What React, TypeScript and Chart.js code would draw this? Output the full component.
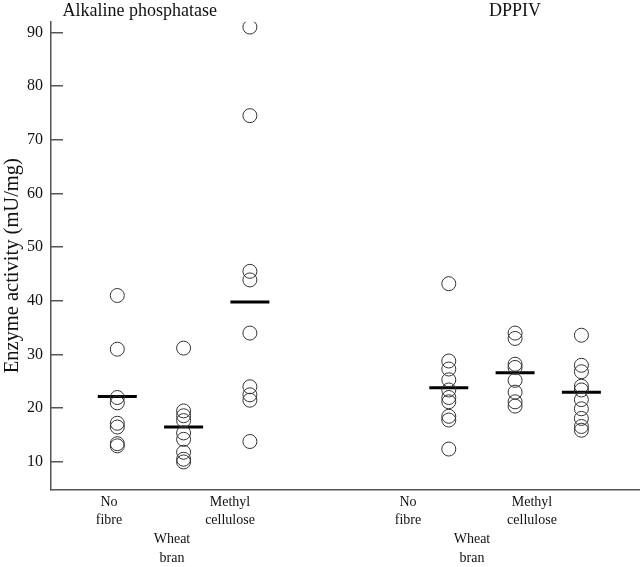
import React, { useEffect, useRef } from "react";
import { Chart, registerables } from "chart.js";

Chart.register(...registerables);

// ---- data ----
const panelTitles = ["Alkaline phosphatase", "DPPIV"];
const panelTitlePositions = [1.34, 7.0];

const categoryLabels = [
  ["No", "fibre"],
  ["", "", "Wheat", "bran"],
  ["Methyl", "cellulose"],
  ["No", "fibre"],
  ["", "", "Wheat", "bran"],
  ["Methyl", "cellulose"],
];
const categoryLabelPositions = [0.875, 1.825, 2.7, 5.385, 6.35, 7.255];
const groupPositions = [1, 2, 3, 6, 7, 8];

const alkNoFibre = [41, 31, 22, 21, 17.2, 16.5, 13.4, 13];
const alkWheatBran = [31.2, 19.5, 18.6, 17.7, 15.4, 14.2, 11.8, 10.5, 10.0];
const alkMethylCellulose = [91, 74.5, 45.5, 43.9, 34, 24, 22.5, 21.5, 13.8];
const dppNoFibre = [43.2, 28.8, 27.3, 25.3, 23.4, 22, 21.2, 18.5, 17.8, 12.4];
const dppWheatBran = [34, 33, 28.2, 27.6, 25.2, 23, 21.2, 20.4];
const dppMethylCellulose = [33.6, 28, 26.8, 24.1, 23.4, 21.6, 19.9, 18.1, 16.6, 15.9];

const groupValues = [
  alkNoFibre,
  alkWheatBran,
  alkMethylCellulose,
  dppNoFibre,
  dppWheatBran,
  dppMethylCellulose,
];
const groupMeans = [22.2, 16.5, 39.8, 23.8, 26.6, 23.0];

const yTicks = [10, 20, 30, 40, 50, 60, 70, 80, 90];
const yTitle = "Enzyme activity (mU/mg)    ";

const FONT = '"Liberation Serif", "DejaVu Serif", serif';

export default function App() {
  const canvasRef = useRef<HTMLCanvasElement | null>(null);

  useEffect(() => {
    const canvas = canvasRef.current;
    if (!canvas) return;

    const points: { x: number; y: number }[] = [];
    groupValues.forEach((vals, gi) => {
      vals.forEach((v) => points.push({ x: groupPositions[gi], y: v }));
    });

    const meanHalfWidth = 0.294;
    const meanDatasets = groupMeans.map((m, gi) => ({
      type: "scatter" as const,
      data: [
        { x: groupPositions[gi] - meanHalfWidth, y: m },
        { x: groupPositions[gi] + meanHalfWidth, y: m },
      ],
      showLine: true,
      borderColor: "#000",
      borderWidth: 3,
      pointRadius: 0,
      pointHoverRadius: 0,
    }));

    const panelTitlePlugin = {
      id: "panelTitles",
      afterDraw(chart: any) {
        const ctx = chart.ctx;
        const xs = chart.scales.x;
        ctx.save();
        ctx.font = `18px ${FONT}`;
        ctx.fillStyle = "#111";
        ctx.textAlign = "center";
        ctx.textBaseline = "alphabetic";
        panelTitles.forEach((t, i) => {
          ctx.fillText(t, xs.getPixelForValue(panelTitlePositions[i]), 16);
        });
        ctx.restore();
      },
    };

    const zeroPad = (s: any) => {
      s.paddingTop = 0;
      s.paddingBottom = 0;
      s.paddingLeft = 0;
      s.paddingRight = 0;
    };

    const chart = new Chart(canvas, {
      type: "scatter",
      data: {
        datasets: [
          {
            type: "scatter",
            data: points,
            pointRadius: 7,
            pointHoverRadius: 7,
            pointBorderColor: "#333",
            pointBackgroundColor: "rgba(0,0,0,0)",
            pointBorderWidth: 1,
          },
          ...meanDatasets,
        ] as any,
      },
      options: {
        animation: false,
        responsive: false,
        layout: { autoPadding: false, padding: { top: 21.7, right: 0, bottom: 0, left: 0 } },
        plugins: {
          legend: { display: false },
          tooltip: { enabled: false },
        },
        scales: {
          x: {
            type: "linear",
            min: 0,
            max: 8.884,
            grid: { display: false, drawTicks: false },
            border: { display: true, color: "#555", width: 1.5 },
            afterBuildTicks: (s: any) => {
              s.ticks = categoryLabelPositions.map((v) => ({ value: v }));
            },
            afterFit: (s: any) => {
              s.height = 77.7;
              zeroPad(s);
            },
            ticks: {
              autoSkip: false,
              maxRotation: 0,
              minRotation: 0,
              padding: 3.3,
              color: "#111",
              font: { family: FONT, size: 14, lineHeight: 1.333 },
              callback: (_v: any, i: number) => categoryLabels[i],
            },
          },
          y: {
            type: "linear",
            min: 4.9,
            max: 92,
            afterBuildTicks: (s: any) => {
              s.ticks = yTicks.map((v) => ({ value: v }));
            },
            afterFit: (s: any) => {
              s.width = 51;
              zeroPad(s);
            },
            grid: {
              drawOnChartArea: false,
              drawTicks: true,
              tickLength: -12,
              color: "#555",
              lineWidth: 1.5,
            },
            border: { display: true, color: "#555", width: 1.5 },
            ticks: {
              padding: 20,
              color: "#111",
              font: { family: FONT, size: 16 },
            },
            title: {
              display: true,
              text: yTitle,
              color: "#111",
              font: { family: FONT, size: 20.5 },
              padding: { top: 0.5, bottom: 0 },
            },
          },
        },
      } as any,
      plugins: [panelTitlePlugin],
    });

    return () => chart.destroy();
  }, []);

  return (
    <div style={{ position: "absolute", left: 0, top: 0, width: 640, height: 567, background: "#fff" }}>
      <canvas ref={canvasRef} width={640} height={567} />
    </div>
  );
}
